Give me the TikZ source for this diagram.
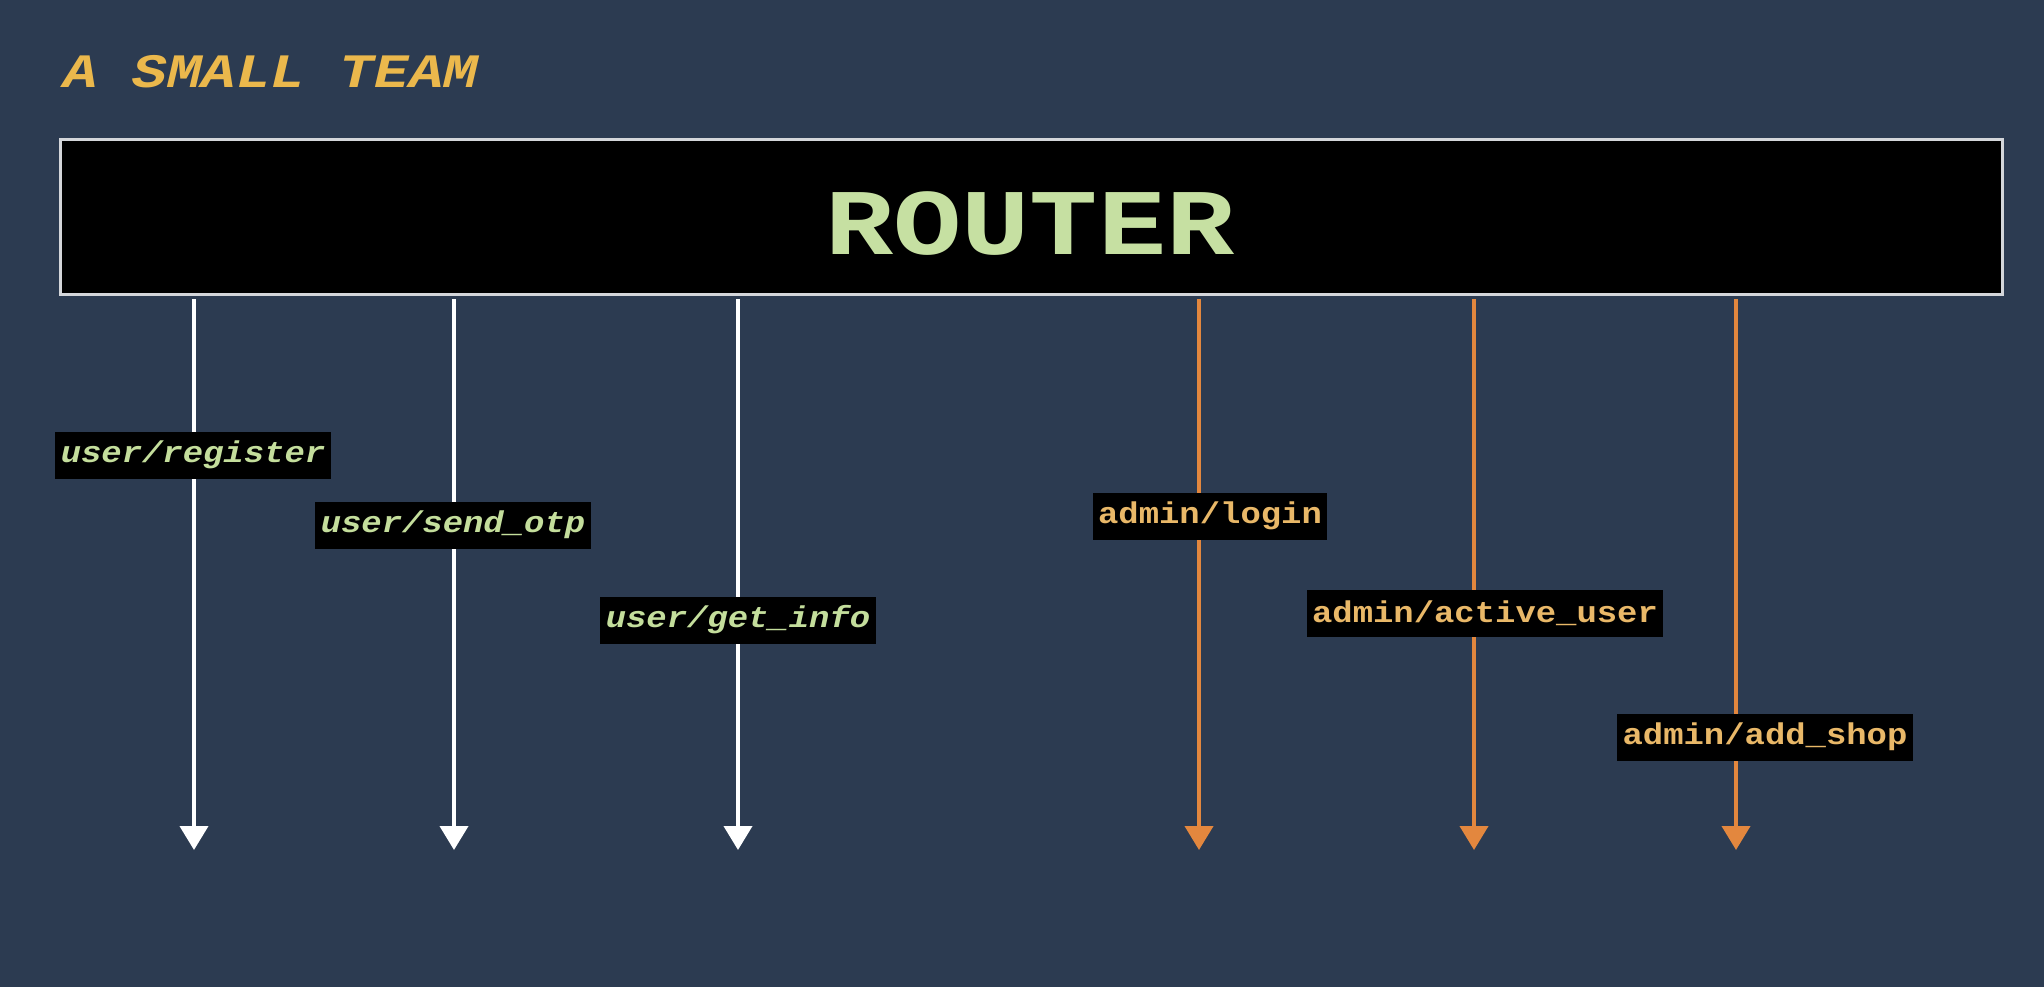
\documentclass[tikz,border=0pt]{standalone}
\usepackage{fontspec}
\setmonofont{Liberation Mono}
\usetikzlibrary{arrows.meta}
\definecolor{bg}{HTML}{2C3B51}
\definecolor{titlegold}{HTML}{EBB84C}
\definecolor{routergreen}{HTML}{C6E0A2}
\definecolor{usergreen}{HTML}{C4DE9C}
\definecolor{admingold}{HTML}{E9B868}
\definecolor{arroworange}{HTML}{E3873E}
\definecolor{boxborder}{HTML}{D4D6DA}
\newcommand{\wideText}[2]{\scalebox{#1}[1]{#2}}
\tikzset{
  routebox/.style={fill=black, inner xsep=2.75pt, inner ysep=0pt, minimum height=23.5pt, font=\ttfamily\bfseries\fontsize{15}{18}\selectfont},
  userlabel/.style={routebox, text=usergreen, font=\ttfamily\bfseries\itshape\fontsize{15}{18}\selectfont},
  adminlabel/.style={routebox, text=admingold},
  userarrow/.style={draw=white, line width=2pt, -{Triangle[width=14pt,length=12pt]}},
  adminarrow/.style={draw=arroworange, line width=2pt, -{Triangle[width=14pt,length=12pt]}}
}
\begin{document}
\begin{tikzpicture}[x=0.5pt,y=-0.5pt]
\useasboundingbox (0,0) rectangle (2044,986);
\fill[bg] (-20,-20) rectangle (2064,1006);

\node[anchor=west, text=titlegold, font=\ttfamily\bfseries\itshape\fontsize{24}{28}\selectfont, inner sep=0pt] (title) at (63,72) {\wideText{1.2}{A SMALL TEAM}};

\node[draw=boxborder, fill=black, line width=1.5pt, minimum width=971pt, minimum height=77.5pt, inner sep=0pt, anchor=north west] (router) at (59,138) {};
\node[text=routergreen, font=\ttfamily\bfseries\fontsize{47}{50}\selectfont, inner sep=0pt] (routertext) at (1030,224) {\wideText{1.21}{ROUTER}};

\coordinate (e1) at (194,850);
\coordinate (e2) at (454,850);
\coordinate (e3) at (738,850);
\coordinate (e4) at (1199,850);
\coordinate (e5) at (1474,850);
\coordinate (e6) at (1736,850);

\draw[userarrow, shorten <=1.5pt] (router.south -| e1) -- (e1);
\draw[userarrow, shorten <=1.5pt] (router.south -| e2) -- (e2);
\draw[userarrow, shorten <=1.5pt] (router.south -| e3) -- (e3);
\draw[adminarrow, shorten <=1.5pt] (router.south -| e4) -- (e4);
\draw[adminarrow, shorten <=1.5pt] (router.south -| e5) -- (e5);
\draw[adminarrow, shorten <=1.5pt] (router.south -| e6) -- (e6);

\node[userlabel] (l1) at (193,455) {\wideText{1.13}{user/register}};
\node[userlabel] (l2) at (453,525) {\wideText{1.13}{user/send\_otp}};
\node[userlabel] (l3) at (738,620) {\wideText{1.13}{user/get\_info}};
\node[adminlabel] (l4) at (1210,516) {\wideText{1.13}{admin/login}};
\node[adminlabel] (l5) at (1485,613) {\wideText{1.13}{admin/active\_user}};
\node[adminlabel] (l6) at (1765,737) {\wideText{1.13}{admin/add\_shop}};
\end{tikzpicture}
\end{document}
